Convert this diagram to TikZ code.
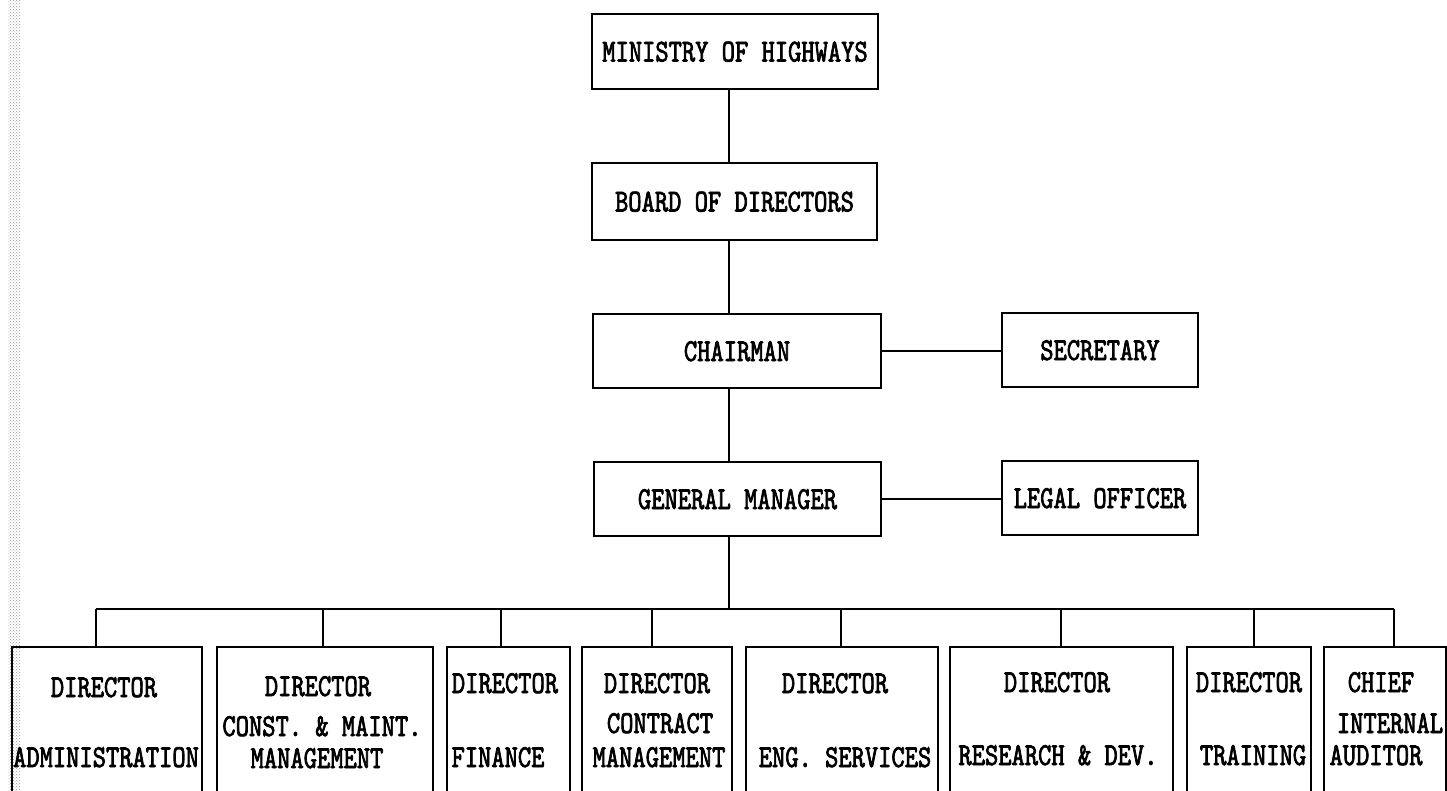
\documentclass[tikz,border=0pt]{standalone}
\usepackage{fontspec}
\newfontfamily\orgfont[FakeStretch=0.79,FakeBold=2.2]{lmmono10-regular.otf}
\usetikzlibrary{patterns}
\begin{document}
\begin{tikzpicture}[x=1pt,y=-1pt,
  txt/.style={font=\orgfont\fontsize{32}{32}\selectfont},
  box/.style={txt,draw,line width=1.8pt,rectangle,inner sep=0pt,text height=20pt,text depth=0pt},
  dbox/.style={draw,line width=1.8pt,rectangle,inner sep=0pt,minimum height=153pt},
  lbl/.style={txt,inner sep=0pt,anchor=base,text height=20pt,text depth=0pt},
  wire/.style={line width=1.8pt}]
\useasboundingbox (0,0) rectangle (1447,791);
\fill[pattern=crosshatch dots,pattern color=gray!80] (8,0) rectangle (20,791);

% upper chain
\node[box,minimum width=286pt,minimum height=75pt] (min) at (735,51.5) {MINISTRY OF HIGHWAYS};
\node[box,minimum width=285pt,minimum height=77pt] (board) at (734.5,201.5) {BOARD OF DIRECTORS};
\node[box,minimum width=288pt,minimum height=74pt] (chair) at (737,351) {CHAIRMAN};
\node[box,minimum width=196pt,minimum height=74pt] (sec) at (1100,350) {SECRETARY};
\node[box,minimum width=287pt,minimum height=74pt] (gm) at (737.5,499) {GENERAL MANAGER};
\node[box,minimum width=196pt,minimum height=74pt] (legal) at (1100,498) {LEGAL OFFICER};

\coordinate (spine) at (729,0);
\coordinate (bus) at (729,609);
\draw[wire] (min.south -| spine) -- (board.north -| spine);
\draw[wire] (board.south -| spine) -- (chair.north -| spine);
\draw[wire] (chair.south -| spine) -- (gm.north -| spine);
\draw[wire] (gm.south -| spine) -- (bus);
\draw[wire] (chair.east) -- (chair.east -| sec.west);
\draw[wire] (gm.east) -- (gm.east -| legal.west);

% lower boxes
\node[dbox,minimum width=190pt] (b1) at (107,723.5) {};
\node[dbox,minimum width=216pt] (b2) at (325,723.5) {};
\node[dbox,minimum width=123pt] (b3) at (508.5,723.5) {};
\node[dbox,minimum width=150pt] (b4) at (657,723.5) {};
\node[dbox,minimum width=192pt] (b5) at (842,723.5) {};
\node[dbox,minimum width=223pt] (b6) at (1061.5,723.5) {};
\node[dbox,minimum width=124pt] (b7) at (1249,723.5) {};
\node[dbox,minimum width=122pt] (b8) at (1385,723.5) {};

\coordinate (d1) at (96,609);
\coordinate (d2) at (323,609);
\coordinate (d3) at (501,609);
\coordinate (d4) at (652,609);
\coordinate (d5) at (841,609);
\coordinate (d6) at (1061,609);
\coordinate (d7) at (1254,609);
\coordinate (d8) at (1394,609);
\draw[wire] (d1) -- (d8);
\foreach \i in {1,...,8} {\draw[wire] (d\i) -- (d\i |- b\i.north);}

% lower texts
\node[lbl] (t1a) at (104,697) {DIRECTOR};
\node[lbl] (t1b) at (106,767) {ADMINISTRATION};
\node[lbl] (t2a) at (318,696) {DIRECTOR};
\node[lbl] (t2b) at (322,736) {CONST. \& MAINT.};
\node[lbl] (t2c) at (317,768) {MANAGEMENT};
\node[lbl] (t3a) at (505,693) {DIRECTOR};
\node[lbl] (t3b) at (498,767) {FINANCE};
\node[lbl] (t4a) at (657,693) {DIRECTOR};
\node[lbl] (t4b) at (660,733) {CONTRACT};
\node[lbl] (t4c) at (659,767) {MANAGEMENT};
\node[lbl] (t5a) at (835,693) {DIRECTOR};
\node[lbl] (t5b) at (845,767) {ENG. SERVICES};
\node[lbl] (t6a) at (1057,692) {DIRECTOR};
\node[lbl] (t6b) at (1058,765) {RESEARCH \& DEV.};
\node[lbl] (t7a) at (1249,692) {DIRECTOR};
\node[lbl] (t7b) at (1253,765) {TRAINING};
\node[lbl] (t8a) at (1381,692) {CHIEF};
\node[lbl] (t8b) at (1390,733) {INTERNAL};
\node[lbl] (t8c) at (1376,765) {AUDITOR};
\end{tikzpicture}
\end{document}
